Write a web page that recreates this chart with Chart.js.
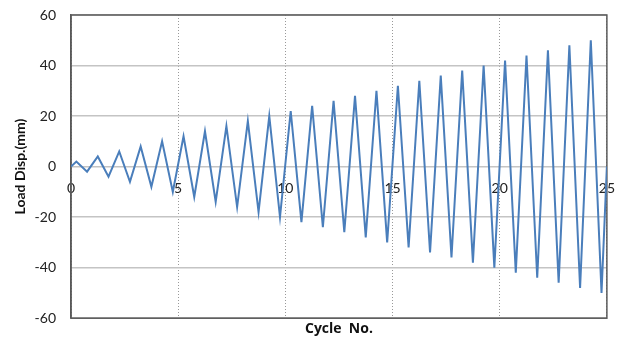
<!DOCTYPE html>
<html>
<head>
<meta charset="utf-8">
<script src="https://cdn.jsdelivr.net/npm/chart.js@4"></script>
<style>
  html, body { margin: 0; padding: 0; background: #fff; }
</style>
</head>
<body>
<canvas id="loadChart" width="628" height="340"></canvas>
<script>
// cycle positions and load displacement (mm)
const cycleX = [0, 0.25, 0.75, 1.25, 1.75, 2.25, 2.75, 3.25, 3.75, 4.25, 4.75,
    5.25, 5.75, 6.25, 6.75, 7.25, 7.75, 8.25, 8.75, 9.25, 9.75,
    10.25, 10.75, 11.25, 11.75, 12.25, 12.75, 13.25, 13.75, 14.25, 14.75,
    15.25, 15.75, 16.25, 16.75, 17.25, 17.75, 18.25, 18.75, 19.25, 19.75,
    20.25, 20.75, 21.25, 21.75, 22.25, 22.75, 23.25, 23.75, 24.25, 24.75, 25];
const loadDisp = [0, 2, -2, 4, -4, 6, -6, 8, -8, 10, -10,
    12, -12, 14, -14, 16, -16, 18, -18, 20, -20,
    22, -22, 24, -24, 26, -26, 28, -28, 30, -30,
    32, -32, 34, -34, 36, -36, 38, -38, 40, -40,
    42, -42, 44, -44, 46, -46, 48, -48, 50, -50, 0];
const xTicks = [0, 5, 10, 15, 20, 25];
const yTicks = [-60, -40, -20, 0, 20, 40, 60];

const points = cycleX.map((x, i) => ({ x: x, y: loadDisp[i] }));

// draws the box round the plot area
const framePlugin = {
    id: "frame",
    beforeDatasetsDraw(chart) {
        const { ctx, chartArea } = chart;
        ctx.save();
        ctx.strokeStyle = "#5a5a5a";
        ctx.lineWidth = 1.5;
        ctx.strokeRect(chartArea.left, chartArea.top, chartArea.right - chartArea.left, chartArea.bottom - chartArea.top);
        ctx.restore();
    },
};

const ctx = document.getElementById("loadChart").getContext("2d");
new Chart(ctx, {
    type: "scatter",
    data: {
        datasets: [
            {
                data: points,
                showLine: true,
                borderColor: "#4a7ebb",
                borderWidth: 2,
                pointRadius: 0,
                tension: 0,
            },
        ],
    },
    options: {
        responsive: false,
        animation: false,
        layout: { padding: { top: 15, right: 21, bottom: 3, left: 0 } },
        plugins: { legend: { display: false }, tooltip: { enabled: false } },
        scales: {
            x: {
                type: "linear",
                position: { y: 0 },
                min: 0,
                max: 25,
                afterBuildTicks: (s) => { s.ticks = xTicks.map((v) => ({ value: v })); },
                afterFit: (s) => { s.height = 0; },
                grid: { color: "#999999", lineWidth: 1, drawTicks: false },
                border: { display: false, dash: [1, 2] },
                ticks: { padding: 13, color: "#222", font: { family: "Lato", size: 14 }, maxRotation: 0 },
            },
            xb: {
                type: "linear",
                position: "bottom",
                min: 0,
                max: 25,
                grid: { display: false, drawTicks: false },
                border: { display: false },
                ticks: { display: false },
                title: {
                    display: true,
                    text: "Cycle  No.",
                    color: "#111",
                    font: { family: "Open Sans", size: 14, weight: "bold" },
                    padding: { top: 2, bottom: 0 },
                },
            },
            y: {
                min: -60,
                max: 60,
                afterBuildTicks: (s) => { s.ticks = yTicks.map((v) => ({ value: v })); },
                afterFit: (s) => { s.width = 71; s.paddingTop = 0; s.paddingBottom = 0; },
                grid: { color: "#c4c4c4", lineWidth: 1.5, drawTicks: false },
                border: { display: true, color: "#5a5a5a", width: 1.5 },
                ticks: { padding: 15, color: "#222", font: { family: "Lato", size: 14 } },
                title: {
                    display: true,
                    text: "Load Disp.(mm)",
                    color: "#111",
                    font: { family: "Lato", size: 14, weight: "bold" },
                    padding: { top: 12, bottom: 0 },
                },
            },
        },
    },
    plugins: [framePlugin],
});
</script>
</body>
</html>
